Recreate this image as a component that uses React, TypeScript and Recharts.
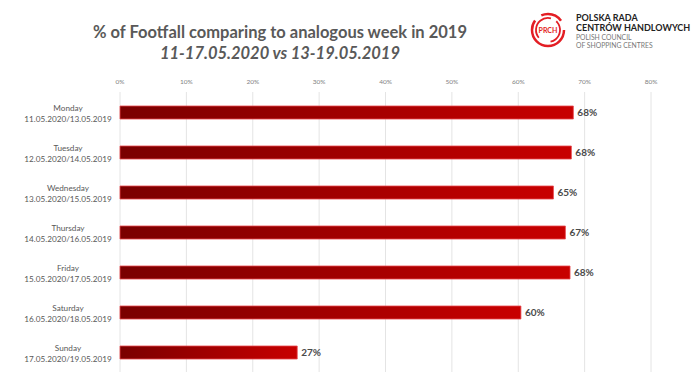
import React from 'react';
import { Bar, BarChart, CartesianGrid, LabelList, XAxis, YAxis } from 'recharts';

const days = ['Monday', 'Tuesday', 'Wednesday', 'Thursday', 'Friday', 'Saturday', 'Sunday'];
const dates = [
  '11.05.2020/13.05.2019',
  '12.05.2020/14.05.2019',
  '13.05.2020/15.05.2019',
  '14.05.2020/16.05.2019',
  '15.05.2020/17.05.2019',
  '16.05.2020/18.05.2019',
  '17.05.2020/19.05.2019',
];
const footfall = [68.3, 68.0, 65.3, 67.1, 67.8, 60.4, 26.7];
const xTicks = [0, 10, 20, 30, 40, 50, 60, 70, 80];

const data = days.map((day, i) => ({ day, date: dates[i], value: footfall[i] }));

const FONT = 'Lato, "Open Sans", sans-serif';
const GREY = '#595959';

function DayTick({ x, y, payload }: any) {
  const row = data[payload.index] ?? data.find((d) => d.day === payload.value);
  const cx = x - 44;
  return (
    <g>
      <text x={cx} y={y - 1.5} textAnchor="middle" fontSize={8.2} fill={GREY} fontFamily={FONT}>
        {row?.day}
      </text>
      <text x={cx} y={y + 9.5} textAnchor="middle" fontSize={8.2} fill={GREY} fontFamily={FONT}>
        {row?.date}
      </text>
    </g>
  );
}

function Logo() {
  return (
    <div style={{ position: 'absolute', left: 530, top: 8, width: 166, height: 48, whiteSpace: 'nowrap' }}>
      <svg width={40} height={44} style={{ position: 'absolute', left: 0, top: 0 }}>
        <circle cx={18} cy={22} r={16} fill="none" stroke="#e31e24" strokeWidth={2.5} strokeDasharray="60 8 22 10" />
        <circle cx={18} cy={22} r={12} fill="none" stroke="#e31e24" strokeWidth={1.8} strokeDasharray="30 6 26 14" transform="rotate(140 18 22)" />
        <text x={18} y={25} textAnchor="middle" fontSize={7} fontWeight={700} fill="#e31e24" fontFamily={FONT}>
          PRCH
        </text>
      </svg>
      <div style={{ position: 'absolute', left: 46, top: 5, fontFamily: FONT, lineHeight: 1 }}>
        <div style={{ fontSize: 9, fontWeight: 700, color: '#222' }}>POLSKA RADA</div>
        <div style={{ fontSize: 9, fontWeight: 700, color: '#222', marginTop: 1 }}>CENTRÓW HANDLOWYCH</div>
        <div style={{ fontSize: 6.8, color: '#777', marginTop: 2 }}>POLISH COUNCIL</div>
        <div style={{ fontSize: 6.8, color: '#777', marginTop: 1 }}>OF SHOPPING CENTRES</div>
      </div>
    </div>
  );
}

export default function App() {
  return (
    <div style={{ position: 'absolute', left: 0, top: 0, width: 696, height: 385, background: '#fff' }}>
      <div
        style={{
          position: 'absolute',
          left: 80,
          width: 400,
          top: 22,
          textAlign: 'center',
          fontFamily: FONT,
          color: GREY,
          fontWeight: 700,
          fontSize: 16.5,
          lineHeight: '21px',
        }}
      >
        <div>% of Footfall comparing to analogous week in 2019</div>
        <div style={{ fontStyle: 'italic' }}>11-17.05.2020 vs 13-19.05.2019</div>
      </div>
      <Logo />
      <BarChart
        width={696}
        height={385}
        data={data}
        layout="vertical"
        margin={{ top: 72, right: 45, bottom: 13, left: 0 }}
        barCategoryGap={0}
      >
        <defs>
          <linearGradient id="barFill" x1="0" y1="0" x2="1" y2="0">
            <stop offset="0%" stopColor="#7a0000" />
            <stop offset="100%" stopColor="#c80000" />
          </linearGradient>
        </defs>
        <CartesianGrid horizontal={false} stroke="#e4e4e4" />
        <XAxis
          type="number"
          orientation="top"
          domain={[0, 80]}
          ticks={xTicks}
          tickFormatter={(v) => `${v}%`}
          axisLine={false}
          tickLine={false}
          height={20}
          tick={{ fontSize: 6.5, fill: '#7f7f7f', fontFamily: FONT }}
        />
        <YAxis
          type="category"
          dataKey="day"
          width={120}
          axisLine={false}
          tickLine={false}
          tick={<DayTick />}
        />
        <Bar dataKey="value" fill="url(#barFill)" stroke="#e8484d" strokeWidth={0.8} barSize={13} isAnimationActive={false}>
          <LabelList
            dataKey="value"
            position="right"
            offset={4}
            formatter={(v: any) => `${Math.round(v)}%`}
            style={{ fontSize: 10, fontWeight: 700, fill: '#4a4a4a', fontFamily: FONT }}
          />
        </Bar>
      </BarChart>
    </div>
  );
}
